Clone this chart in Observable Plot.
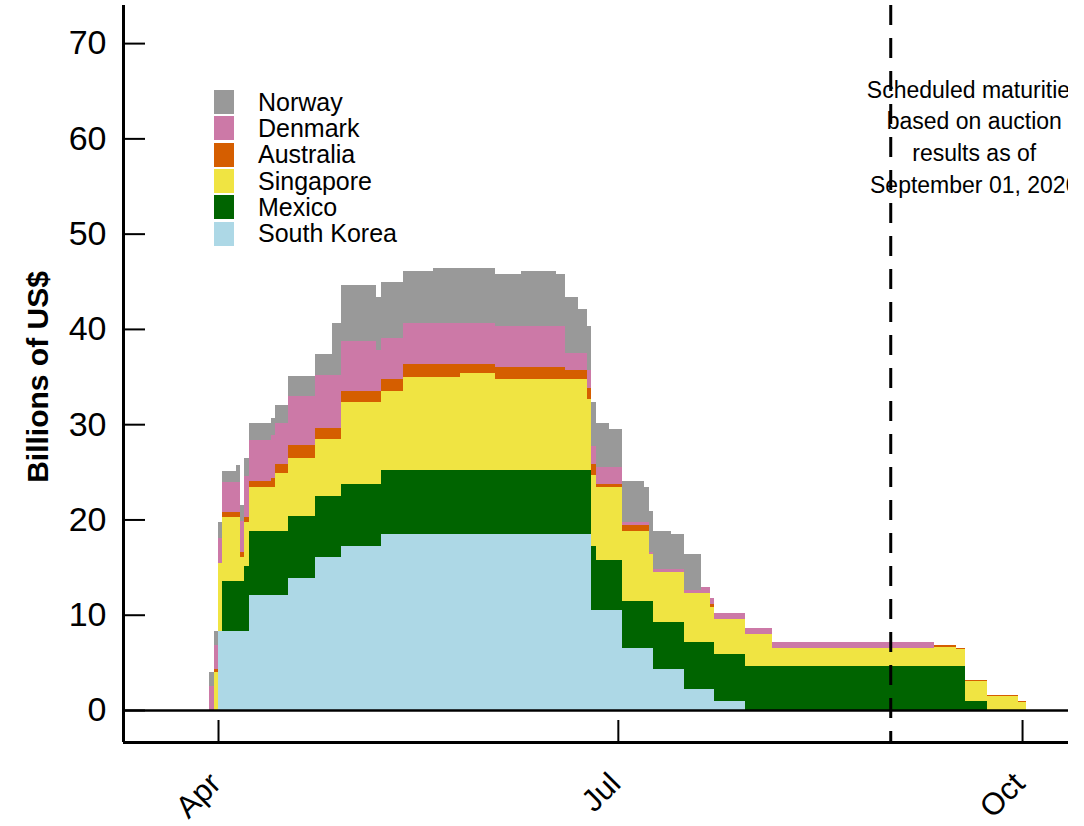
<!DOCTYPE html>
<html>
<head>
<meta charset="utf-8">
<script src="https://cdn.jsdelivr.net/npm/d3@7"></script>
<script src="https://cdn.jsdelivr.net/npm/@observablehq/plot@0.6"></script>
<style>
  body { margin: 0; background: #fff; }
  #chart { position: relative; width: 1084px; height: 826px; font-family: "Liberation Sans", Arial, sans-serif; }
  #legend { position: absolute; left: 214px; top: 89px; }
  .row { display: flex; align-items: center; height: 26.3px; }
  .sw { width: 20px; height: 24px; margin-right: 24px; }
  .lab { font-size: 25px; line-height: 1; color: #000; white-space: nowrap; }
</style>
</head>
<body>
<div id="chart"><div id="legend"></div></div>
<script>
// Outstanding central bank liquidity swaps, billions of US$ (step changes by date)
const dates = [
  "2020-03-30","2020-03-31","2020-04-01","2020-04-02","2020-04-05","2020-04-06","2020-04-07","2020-04-08",
  "2020-04-13","2020-04-14","2020-04-17","2020-04-23","2020-04-27","2020-04-29","2020-05-07","2020-05-08",
  "2020-05-13","2020-05-20","2020-05-26","2020-06-03","2020-06-09","2020-06-17","2020-06-19","2020-06-22",
  "2020-06-24","2020-06-25","2020-06-26","2020-06-29","2020-07-02","2020-07-07","2020-07-08","2020-07-09",
  "2020-07-13","2020-07-16","2020-07-20","2020-07-22","2020-07-23","2020-07-30","2020-08-05","2020-09-11",
  "2020-09-16","2020-09-18","2020-09-23","2020-09-30","2020-10-02"
];
const southKorea = [0,0,8.3,8.3,8.3,8.3,8.3,12.1, 12.1,12.1,13.9,16.1,16.1,17.2,17.2,18.5, 18.5,18.5,18.5,18.5,18.5,18.5,18.5,18.5, 18.5,10.5,10.5,10.5,6.5,6.5,6.5,4.3, 4.3,2.2,2.2,2.2,0.9,0,0,0, 0,0,0,0,0];
const mexico     = [0,0,0,5.2,5.2,5.2,6.8,6.7, 6.7,6.7,6.5,6.4,6.4,6.5,6.5,6.7, 6.7,6.7,6.7,6.7,6.7,6.7,6.7,6.7, 6.7,6.7,5.2,5.2,4.9,4.9,4.9,4.9, 4.9,4.9,4.9,4.9,5.0,4.6,4.6,4.6, 4.6,0.9,0,0,0];
const singapore  = [0,4.0,7.1,6.8,6.8,2.6,4.6,4.6, 4.6,6.1,6.1,5.9,5.9,8.6,8.6,8.3, 9.8,9.8,10.2,9.5,9.5,9.5,9.5,9.5, 7.4,7.5,7.7,7.7,7.4,7.4,5.0,5.3, 5.3,5.2,5.2,3.7,3.6,3.4,1.9,2.05, 1.8,2.1,1.5,0.8,0];
const australia  = [0,0.3,0,0.5,0.5,0.5,0.6,0.6, 1.0,0.9,1.3,1.2,1.2,1.2,1.2,1.2, 1.3,1.3,0.9,1.3,1.3,1.3,1.0,1.0, 1.2,1.1,0.3,0.3,0.6,0.6,0,0, 0,0,0,0.3,0,0,0,0.15, 0.1,0.1,0.1,0.1,0];
const denmark    = [2.5,2.5,2.7,3.1,3.1,3.2,4.3,4.3, 4.5,4.3,5.2,5.6,5.6,5.2,4.3,4.3, 4.3,4.3,4.3,4.3,4.3,4.3,1.8,1.8, 1.9,1.9,1.8,1.8,0.3,0.3,0.2,0.3, 0.3,0.3,0.6,0.7,0.7,0.6,0.6,0, 0,0,0,0,0];
const norway     = [1.5,1.5,1.6,1.2,1.8,1.7,1.8,1.8, 1.8,1.9,2.1,2.2,5.4,5.9,5.5,5.9, 5.5,5.8,5.8,5.5,5.8,5.5,5.8,4.6, 4.6,4.6,4.6,4.0,4.3,3.7,4.3,4.0, 3.7,3.8,0,0,0,0,0,0, 0,0,0,0,0];

// Stack order, bottom to top, and fill colours
const countries = ["South Korea", "Mexico", "Singapore", "Australia", "Denmark", "Norway"];
const colors = ["#add8e6", "#006400", "#f0e442", "#d55e00", "#cc79a7", "#999999"];
const seriesByCountry = {
  "South Korea": southKorea, "Mexico": mexico, "Singapore": singapore,
  "Australia": australia, "Denmark": denmark, "Norway": norway
};

// Axis ticks
const yTicks = [0, 10, 20, 30, 40, 50, 60, 70];
const tickDates = ["2020-04-01", "2020-07-01", "2020-10-01"].map(d => new Date(d));
const tickLabels = ["Apr", "Jul", "Oct"];

// Cut-off marker and its note
const cutoffDate = new Date("2020-09-01");
const noteDate = new Date("2020-09-20");
const noteY = 66.7;
const noteText = "Scheduled maturities\nbased on auction\nresults as of\nSeptember 01, 2020";

const xDomain = [new Date("2020-03-10T09:00Z"), new Date("2020-10-11T11:00Z")];
const yDomain = [-3.36, 74.0];

const rows = dates.flatMap((d, i) =>
  countries.map(c => ({date: new Date(d), country: c, value: seriesByCountry[c][i]}))
);

const font = "'Liberation Sans', Arial, Helvetica, sans-serif";

const chart = Plot.plot({
  width: 1084,
  height: 826,
  marginLeft: 123,
  marginRight: 16,
  marginTop: 5,
  marginBottom: 84,
  x: {type: "utc", domain: xDomain},
  y: {domain: yDomain},
  color: {domain: countries, range: colors},
  style: {fontFamily: font, background: "#fff", color: "#000", overflow: "hidden"},
  marks: [
    Plot.areaY(rows, {
      x: "date", y: "value", fill: "country", curve: "step-after",
      order: countries, shapeRendering: "crispEdges"
    }),
    Plot.ruleY([0], {stroke: "#000", strokeWidth: 2.5}),
    Plot.text([noteText], {
      x: noteDate, y: noteY, text: d => d, lineAnchor: "top",
      lineHeight: 1.38, fontSize: 23, fill: "#000", clip: true
    }),
    Plot.ruleX([cutoffDate], {stroke: "#000", strokeWidth: 3, strokeDasharray: "20,13"}),
    Plot.axisY({ticks: yTicks, tickSize: 0, tickPadding: 17, fontSize: 34, label: null}),
    Plot.axisY({ticks: yTicks, tickSize: 22, text: null, dx: 22, strokeWidth: 2, label: null}),
    Plot.axisX({
      ticks: tickDates,
      tickFormat: d => tickLabels[tickDates.findIndex(t => +t === +d)],
      tickSize: 0, tickPadding: 36, tickRotate: -45, fontSize: 31, dx: -3, label: null
    }),
    Plot.axisX({ticks: tickDates, tickSize: 22, text: null, dy: -22, strokeWidth: 2, label: null}),
    Plot.ruleX([xDomain[0]], {stroke: "#000", strokeWidth: 3}),
    Plot.ruleY([yDomain[0]], {stroke: "#000", strokeWidth: 3}),
    Plot.text(["Billions of US$"], {
      frameAnchor: "left", textAnchor: "middle", rotate: -90, dx: -85.5, dy: 3,
      fontSize: 30, fontWeight: "bold", fill: "#000"
    })
  ]
});

const container = document.getElementById("chart");
container.insertBefore(chart, container.firstChild);

// Legend, top layer first
const legend = d3.select("#legend");
countries.slice().reverse().forEach(c => {
  const row = legend.append("div").attr("class", "row");
  row.append("div").attr("class", "sw").style("background", colors[countries.indexOf(c)]);
  row.append("div").attr("class", "lab").text(c);
});
</script>
</body>
</html>
